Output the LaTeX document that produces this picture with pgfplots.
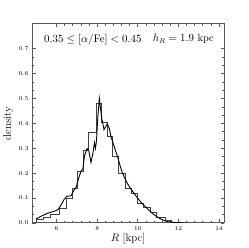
\documentclass[border=0pt]{standalone}
\usepackage{pgfplots}
\pgfplotsset{compat=1.18}
\begin{document}
\begin{tikzpicture}
\begin{axis}[
  scale only axis,
  width=193pt, height=200pt,
  xmin=4.8, xmax=14.25, ymin=0, ymax=0.8,
  xtick={6,8,10,12,14},
  ytick={0,0.1,0.2,0.3,0.4,0.5,0.6,0.7},
  minor x tick num=4, minor y tick num=2,
  yticklabel style={/pgf/number format/fixed,/pgf/number format/fixed zerofill,/pgf/number format/precision=1},
  tick label style={font=\fontsize{6.5}{7}\selectfont},
  tick align=inside,
  major tick length=3.5pt, minor tick length=1.8pt,
  xtick pos=both, ytick pos=both,
  axis line style={line width=1pt, black!65},
  every tick/.style={black!65, line width=0.6pt},
  xlabel={$R$ [kpc]}, ylabel={density},
  label style={font=\fontsize{11}{13}\selectfont},
  xlabel style={yshift=4pt},
  ylabel style={yshift=-1pt},
  clip=true,
]
\addplot[const plot, black!75, line width=0.9pt] coordinates {
(5.00,0) (5.00,0.012) (5.35,0.022) (5.68,0.033) (6.15,0.060) (6.48,0.100) (6.80,0.137)
(7.05,0.205) (7.34,0.290) (7.57,0.365) (7.95,0.480) (8.20,0.404) (8.49,0.347)
(8.77,0.267) (9.05,0.200) (9.38,0.140) (9.67,0.118) (9.97,0.079) (10.30,0.061)
(10.61,0.043) (10.93,0.021) (11.34,0.008) (11.67,0.003) (12.13,0.001) (12.46,0.001)
};
\addplot[black, line width=0.9pt] coordinates {
(5.00,0.016) (5.25,0.027) (5.57,0.039) (5.90,0.047) (6.07,0.053) (6.23,0.072)
(6.39,0.096) (6.52,0.107) (6.72,0.109) (6.85,0.130) (6.97,0.143) (7.08,0.176)
(7.21,0.209) (7.30,0.216) (7.38,0.270) (7.51,0.299) (7.59,0.290) (7.70,0.243)
(7.80,0.283) (7.87,0.323) (7.92,0.300) (7.97,0.330) (8.03,0.420) (8.11,0.500)
(8.23,0.420) (8.34,0.375) (8.50,0.398) (8.60,0.380) (8.69,0.345) (8.85,0.305)
(9.02,0.263) (9.18,0.216) (9.34,0.183) (9.51,0.156) (9.67,0.136) (9.84,0.116)
(10.00,0.099) (10.16,0.083) (10.33,0.069) (10.49,0.056) (10.66,0.043) (10.82,0.032)
(10.98,0.023) (11.15,0.015) (11.31,0.009) (11.48,0.005) (11.80,0.002) (12.21,0.0005)
};
\node[anchor=north west, font=\fontsize{10.5}{12}\selectfont] at (rel axis cs:0.045,0.965) {$0.35\leq[\alpha/\mathrm{Fe}]<0.45$};
\node[anchor=north east, font=\fontsize{10.5}{12}\selectfont] at (rel axis cs:0.965,0.965) {$h_R=1.9$ kpc};
\end{axis}
\path ([shift={(-31pt,-25pt)}]current axis.south west) rectangle ([shift={(25pt,24pt)}]current axis.north east);
\end{tikzpicture}
\end{document}
